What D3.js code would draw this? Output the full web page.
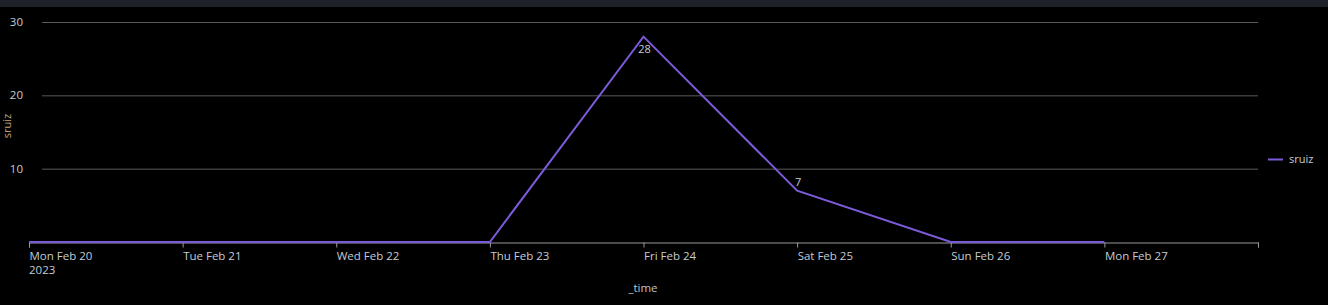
<!DOCTYPE html>
<meta charset="utf-8">
<style>
body { margin: 0; background: #000; }
svg { display: block; }
text { font-family: "Open Sans", "Noto Sans", sans-serif; }
</style>
<script src="https://d3js.org/d3.v7.min.js"></script>
<div id="chart"></div>
<script>
// Daily counts for sruiz
var days = ["2023-02-20", "2023-02-21", "2023-02-22", "2023-02-23", "2023-02-24", "2023-02-25", "2023-02-26", "2023-02-27"];
var counts = [0, 0, 0, 0, 28, 7, 0, 0];
var yTicks = [10, 20, 30];
var seriesName = "sruiz";

var W = 1328, H = 305;
var margin = {top: 22, right: 70, bottom: 63, left: 29};

var parse = d3.timeParse("%Y-%m-%d");
var data = days.map(function(d, i) { return {date: parse(d), value: counts[i]}; });

var svg = d3.select("#chart").append("svg")
  .attr("width", W).attr("height", H);

// dark strip along the top
svg.append("rect").attr("x", 0).attr("y", 0).attr("width", W).attr("height", 7).attr("fill", "#1e2127");

var x = d3.scaleTime()
  .domain([parse("2023-02-20"), parse("2023-02-28")])
  .range([margin.left, W - margin.right]);
var y = d3.scaleLinear()
  .domain([0, 30])
  .range([H - margin.bottom, margin.top]);

// gridlines + y labels
svg.selectAll(".grid").data(yTicks).enter().append("line")
  .attr("x1", 42).attr("x2", x.range()[1])
  .attr("y1", function(d) { return y(d) + 0.5; })
  .attr("y2", function(d) { return y(d) + 0.5; })
  .attr("stroke", "#5a5a5a").attr("stroke-width", 1);

svg.selectAll(".ylab").data(yTicks).enter().append("text")
  .attr("x", 23).attr("y", function(d) { return y(d) + 4; })
  .attr("text-anchor", "end")
  .attr("font-size", 11.5).attr("fill", "#c3ccd6")
  .text(function(d) { return d; });

// y axis title
svg.append("text")
  .attr("transform", "translate(11,126) rotate(-90)")
  .attr("text-anchor", "middle")
  .attr("font-size", 11).attr("fill", "#c9a57a")
  .text(seriesName);

// x axis
var xAxis = d3.axisBottom(x)
  .ticks(d3.timeDay.every(1))
  .tickSize(5)
  .tickFormat(function(d) { return d3.timeFormat("%a %b %d")(d); });

var gx = svg.append("g")
  .attr("transform", "translate(0," + (y(0) + 0.5) + ")")
  .call(xAxis);
gx.select(".domain").attr("stroke", "#9a9a9a");
gx.selectAll(".tick line").attr("stroke", "#9a9a9a");
gx.selectAll(".tick text")
  .attr("text-anchor", "start")
  .attr("x", 0).attr("dy", "0.71em").attr("y", 9)
  .attr("font-size", 11.5)
  .attr("font-family", "\"Open Sans\", sans-serif")
  .attr("fill", "#c3ccd6")
  .text(function(d) { return +d === +x.domain()[1] ? "" : d3.timeFormat("%a %b %d")(d); });

// year under first tick
svg.append("text")
  .attr("x", x(data[0].date)).attr("y", 274)
  .attr("font-size", 11.5).attr("fill", "#c3ccd6")
  .text(d3.timeFormat("%Y")(data[0].date));

// x axis title
svg.append("text")
  .attr("x", 643).attr("y", 292)
  .attr("text-anchor", "middle")
  .attr("font-size", 11.5).attr("fill", "#c0c4c8")
  .text("_time");

// series line
var line = d3.line()
  .x(function(d) { return x(d.date); })
  .y(function(d) { return y(d.value); });

svg.append("path").datum(data)
  .attr("d", line)
  .attr("fill", "none")
  .attr("stroke", "#7c5bdb")
  .attr("stroke-width", 2);

// value labels
svg.selectAll(".vlab").data(data.filter(function(d) { return d.value > 0; })).enter().append("text")
  .attr("x", function(d) { return x(d.date) + 1; })
  .attr("y", function(d, i) { return i === 0 ? y(d.value) + 16 : y(d.value) - 5; })
  .attr("text-anchor", "middle")
  .attr("font-size", 11).attr("fill", "#c3ccd6")
  .text(function(d) { return d.value; });

// legend
svg.append("line")
  .attr("x1", 1268).attr("x2", 1283)
  .attr("y1", 159.5).attr("y2", 159.5)
  .attr("stroke", "#7c5bdb").attr("stroke-width", 2);
svg.append("text")
  .attr("x", 1289).attr("y", 163)
  .attr("font-size", 11).attr("fill", "#c3ccd6")
  .text(seriesName);
</script>
